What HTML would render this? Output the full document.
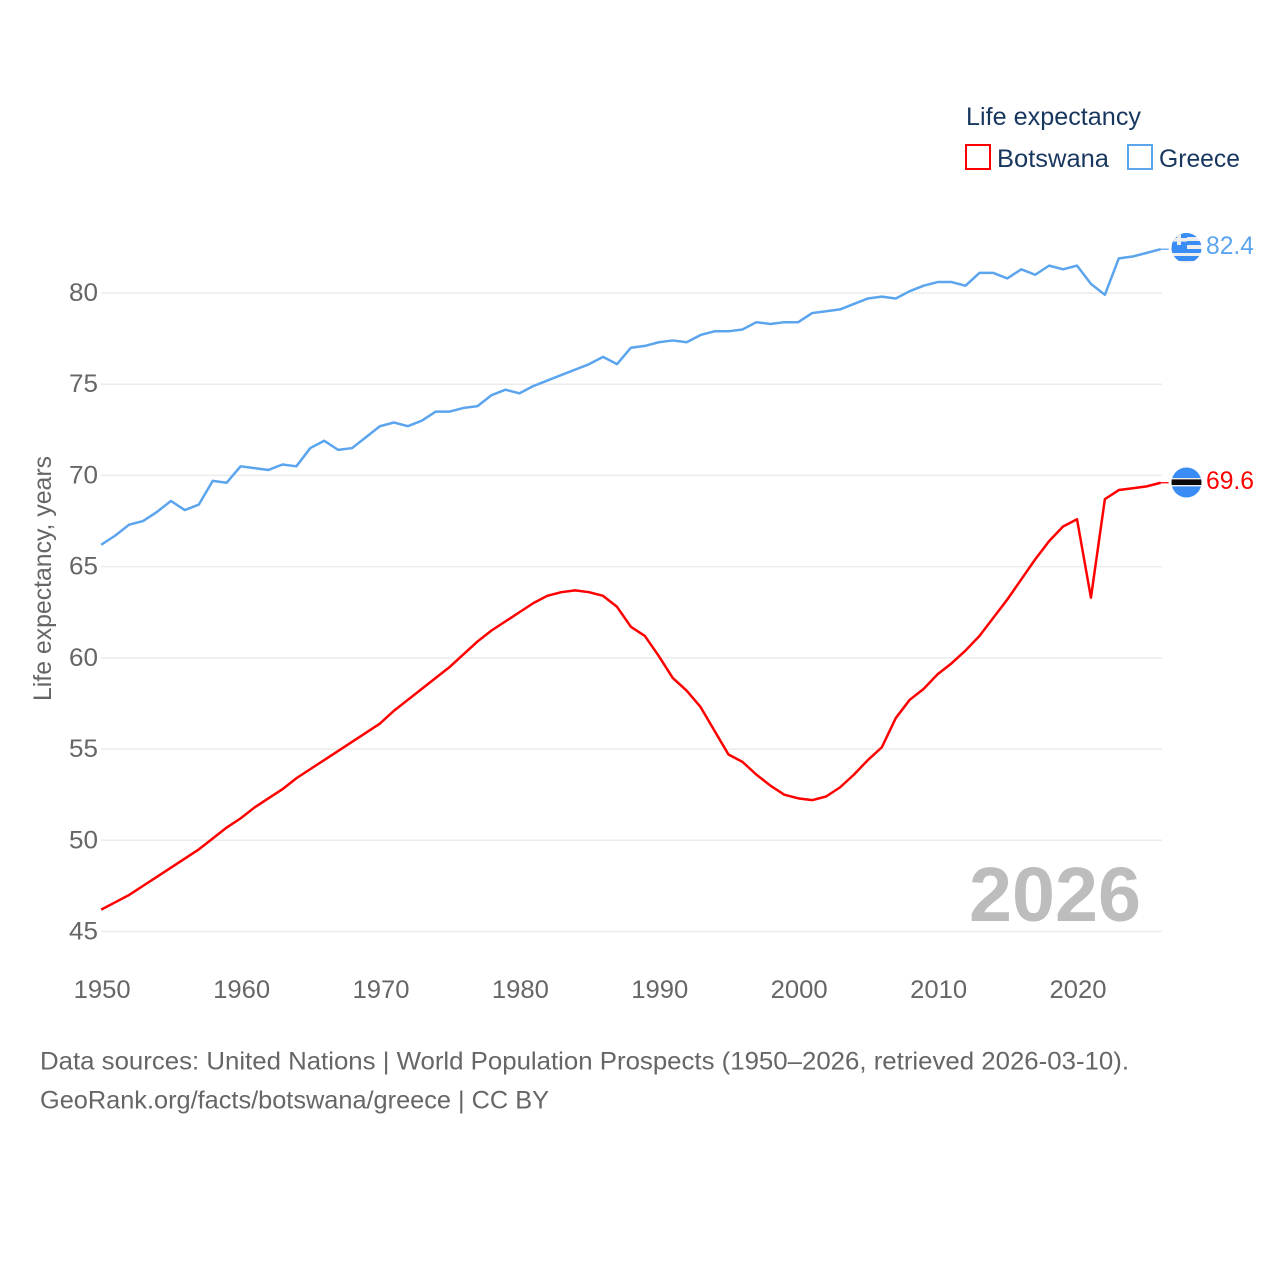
<!DOCTYPE html>
<html lang="en">
<head>
<meta charset="utf-8">
<title>Life expectancy: Botswana and Greece</title>
<style>
html,body{margin:0;padding:0;background:#fff}
svg{display:block;font-family:"Liberation Sans",sans-serif}
</style>
</head>
<body>
<svg id="chart" xmlns="http://www.w3.org/2000/svg" width="1280" height="1280" viewBox="0 0 1280 1280">
  <defs>
    <clipPath id="flag-clip-greece"><circle cx="1186.5" cy="248" r="15"></circle></clipPath>
    <clipPath id="flag-clip-botswana"><circle cx="1186.5" cy="482.5" r="15"></circle></clipPath>
  </defs>
  <rect width="1280" height="1280" fill="#fff"></rect>
  <g id="grid"></g>
  <g id="y-ticks"></g>
  <g id="x-ticks"></g>
  <text transform="translate(51 701) rotate(-90)" font-size="25" fill="#666" textLength="245" lengthAdjust="spacingAndGlyphs">Life expectancy, years</text>
  <text x="969" y="921" font-size="77" font-weight="700" fill="#bdbdbd" textLength="172" lengthAdjust="spacingAndGlyphs">2026</text>
  <g id="series"></g>

  <g clip-path="url(#flag-clip-greece)">
    <rect x="1171" y="233" width="31" height="30" fill="#eeeeee"></rect>
    <rect x="1171" y="233" width="31" height="4" fill="#3a8df5"></rect>
    <rect x="1171" y="241" width="31" height="4" fill="#3a8df5"></rect>
    <rect x="1171" y="249" width="31" height="4" fill="#3a8df5"></rect>
    <rect x="1171" y="256" width="31" height="5" fill="#3a8df5"></rect>
    <rect x="1171" y="233" width="16" height="20" fill="#3a8df5"></rect>
    <rect x="1177" y="233" width="4" height="12" fill="#eeeeee"></rect>
    <rect x="1171" y="238" width="16" height="3.6" fill="#eeeeee"></rect>
  </g>
  <g clip-path="url(#flag-clip-botswana)">
    <rect x="1171" y="467" width="31" height="31" fill="#3a8df5"></rect>
    <rect x="1171" y="478" width="31" height="8.4" fill="#eeeeee"></rect>
    <rect x="1171" y="479.4" width="31" height="5.6" fill="#0a0a0a"></rect>
  </g>

  <g>
    <text x="966" y="125" font-size="25" fill="#18375f" textLength="175" lengthAdjust="spacingAndGlyphs">Life expectancy</text>
    <rect x="966" y="145" width="24" height="24" fill="#fff" stroke="#ff0000" stroke-width="2"></rect>
    <text x="997" y="167" font-size="25" fill="#18375f" textLength="112" lengthAdjust="spacingAndGlyphs">Botswana</text>
    <rect x="1128" y="145" width="24" height="24" fill="#fff" stroke="#5ba4ee" stroke-width="2"></rect>
    <text x="1159" y="167" font-size="25" fill="#18375f" textLength="81" lengthAdjust="spacingAndGlyphs">Greece</text>
  </g>

  <text x="40" y="1069.5" font-size="25" fill="#666" textLength="1089" lengthAdjust="spacingAndGlyphs">Data sources: United Nations | World Population Prospects (1950–2026, retrieved 2026-03-10).</text>
  <text x="40" y="1108.5" font-size="25" fill="#666" textLength="509" lengthAdjust="spacingAndGlyphs">GeoRank.org/facts/botswana/greece | CC BY</text>
</svg>
<script>
const years = [1950,1951,1952,1953,1954,1955,1956,1957,1958,1959,1960,1961,1962,1963,1964,1965,1966,1967,1968,1969,1970,1971,1972,1973,1974,1975,1976,1977,1978,1979,1980,1981,1982,1983,1984,1985,1986,1987,1988,1989,1990,1991,1992,1993,1994,1995,1996,1997,1998,1999,2000,2001,2002,2003,2004,2005,2006,2007,2008,2009,2010,2011,2012,2013,2014,2015,2016,2017,2018,2019,2020,2021,2022,2023,2024,2025,2026];
const greeceValues = [66.2,66.7,67.3,67.5,68.0,68.6,68.1,68.4,69.7,69.6,70.5,70.4,70.3,70.6,70.5,71.5,71.9,71.4,71.5,72.1,72.7,72.9,72.7,73.0,73.5,73.5,73.7,73.8,74.4,74.7,74.5,74.9,75.2,75.5,75.8,76.1,76.5,76.1,77.0,77.1,77.3,77.4,77.3,77.7,77.9,77.9,78.0,78.4,78.3,78.4,78.4,78.9,79.0,79.1,79.4,79.7,79.8,79.7,80.1,80.4,80.6,80.6,80.4,81.1,81.1,80.8,81.3,81.0,81.5,81.3,81.5,80.5,79.9,81.9,82.0,82.2,82.4];
const botswanaValues = [46.2,46.6,47.0,47.5,48.0,48.5,49.0,49.5,50.1,50.7,51.2,51.8,52.3,52.8,53.4,53.9,54.4,54.9,55.4,55.9,56.4,57.1,57.7,58.3,58.9,59.5,60.2,60.9,61.5,62.0,62.5,63.0,63.4,63.6,63.7,63.6,63.4,62.8,61.7,61.2,60.1,58.9,58.2,57.3,56.0,54.7,54.3,53.6,53.0,52.5,52.3,52.2,52.4,52.9,53.6,54.4,55.1,56.7,57.7,58.3,59.1,59.7,60.4,61.2,62.2,63.2,64.3,65.4,66.4,67.2,67.6,63.3,68.7,69.2,69.3,69.4,69.6];
const yTicks = [45,50,55,60,65,70,75,80];
const xTicks = [1950,1960,1970,1980,1990,2000,2010,2020];

const NS = 'http://www.w3.org/2000/svg';
const xScale = function (year) { return 101.2 + (year - 1950) * 13.94; };
const yScale = function (value) { return 293 + (80 - value) * (931.5 - 293) / 35; };

function make(tag, parent, attrs) {
  const el = document.createElementNS(NS, tag);
  Object.keys(attrs).forEach(function (k) { el.setAttribute(k, attrs[k]); });
  parent.appendChild(el);
  return el;
}

const grid = document.getElementById('grid');
const yGroup = document.getElementById('y-ticks');
const xGroup = document.getElementById('x-ticks');
const seriesGroup = document.getElementById('series');

yTicks.forEach(function (t) {
  const line = make('line', grid, {x1: 101, x2: 1162, y1: yScale(t), y2: yScale(t), stroke: '#ebebeb', 'stroke-width': 1.5});
  
  
  const label = make('text', yGroup, {x: 98, y: yScale(t) + 8, 'text-anchor': 'end', 'font-size': 25, fill: '#666', textLength: 29, lengthAdjust: 'spacingAndGlyphs'});
  label.textContent = String(t);
  
  
});

xTicks.forEach(function (t) {
  const label = make('text', xGroup, {x: xScale(t) + 1, y: 998, 'text-anchor': 'middle', 'font-size': 25, fill: '#666', textLength: 57, lengthAdjust: 'spacingAndGlyphs'});
  label.textContent = String(t);
  
  
});

function pathFor(values) {
  return values.map(function (v, i) {
    return (i ? 'L' : 'M') + xScale(years[i]).toFixed(2) + ' ' + yScale(v).toFixed(2);
  }).join('');
}

function drawSeries(key, values, color) {
  const last = values[values.length - 1];
  const lastX = xScale(years[years.length - 1]);
  const lastY = yScale(last);
  const line = make('path', seriesGroup, {d: pathFor(values), fill: 'none', stroke: color, 'stroke-width': 2.5, 'stroke-linejoin': 'round'});
  
  
  const connector = make('line', seriesGroup, {x1: lastX, x2: lastX + 8, y1: lastY, y2: lastY, stroke: color, 'stroke-width': 1.3});
  
  
  const label = make('text', seriesGroup, {x: 1206, y: lastY + 6.5 - (key === 'greece' ? 1.5 : 0), 'font-size': 25, fill: color, textLength: 48, lengthAdjust: 'spacingAndGlyphs'});
  label.textContent = last.toFixed(1);
  
  
}

drawSeries('greece', greeceValues, '#5ba4ee');
drawSeries('botswana', botswanaValues, '#ff0000');
</script>
</body>
</html>
